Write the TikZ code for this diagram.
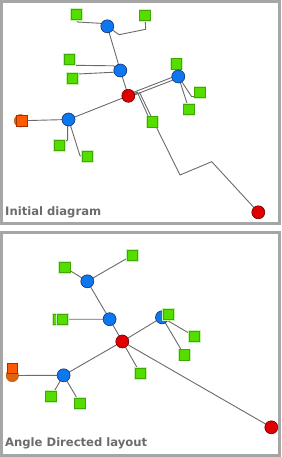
\documentclass[tikz,border=0pt]{standalone}
\usepackage{fontspec}
\newfontfamily\labfont{DejaVu Sans}
\definecolor{nodeblue}{HTML}{0B78F2}
\definecolor{blueline}{HTML}{1A3060}
\definecolor{nodered}{HTML}{E10000}
\definecolor{redline}{HTML}{6A0000}
\definecolor{nodegreen}{HTML}{55DD00}
\definecolor{greenline}{HTML}{3FA800}
\definecolor{greenhalo}{HTML}{CBEFB5}
\definecolor{nodeorange}{HTML}{FF5A00}
\definecolor{orangeline}{HTML}{A03000}
\definecolor{orangedark}{HTML}{DC6410}
\definecolor{edgegray}{HTML}{6A6A6A}
\definecolor{panelgray}{HTML}{A6A6A6}
\definecolor{labgray}{HTML}{6B6B6B}
\pgfdeclarelayer{bg}
\pgfsetlayers{bg,main}
\begin{document}
\begin{tikzpicture}[x=1pt,y=-1pt,
  bluenode/.style={circle,fill=nodeblue,draw=blueline,line width=0.6pt,minimum size=13pt,inner sep=0pt},
  rednode/.style={circle,fill=nodered,draw=redline,line width=0.6pt,minimum size=13pt,inner sep=0pt},
  greennode/.style={rectangle,fill=nodegreen,draw=greenline,line width=0.7pt,minimum size=10.5pt,inner sep=0pt,
    preaction={draw=greenhalo,line width=2.2pt}},
  orangenode/.style={rectangle,fill=nodeorange,draw=orangeline,line width=0.6pt,minimum size=10.5pt,inner sep=0pt},
  orangecirc/.style={circle,fill=orangedark,draw=orangedark!80!black,line width=0.4pt,minimum size=12.5pt,inner sep=0pt},
  edge/.style={draw=edgegray,line width=0.9pt},
  panel/.style={draw=panelgray,line width=2.6pt},
  lab/.style={font=\labfont\bfseries\fontsize{11.6}{14}\selectfont,text=labgray,inner sep=0pt,anchor=west}]
\useasboundingbox (0,0) rectangle (281,457);
% panels
\draw[panel] (1.3,1.3) rectangle (279.7,223.6);
\draw[panel] (1.3,232.4) rectangle (279.7,455.7);
\node[lab] (cap1) at (5,212.5) {Initial diagram};
\node[lab] (cap2) at (5,443.5) {Angle Directed layout};

% ---------- top panel: initial diagram ----------
\node[bluenode] (tb1) at (107.3,26.3) {};
\node[greennode] (ts1) at (76.3,14.3) {};
\node[greennode] (ts2) at (145,15.3) {};
\node[bluenode] (tb2) at (120.3,70.5) {};
\node[greennode] (ts3) at (69.3,59.3) {};
\node[greennode] (ts4) at (72.3,78.3) {};
\node[rednode] (tr1) at (128.3,95.8) {};
\node[greennode] (ts5) at (176.5,64) {};
\node[bluenode] (tb3) at (178.3,76.5) {};
\node[greennode] (ts6) at (200,92.3) {};
\node[greennode] (ts7) at (189,109.3) {};
\node[greennode] (ts8) at (152.3,122) {};
\node[bluenode] (tb4) at (68.5,119.5) {};
\node[orangecirc] (toc) at (20.5,120.8) {};
\node[orangenode] (to) at (21.8,120.7) {};
\node[greennode] (ts9) at (59.3,145.3) {};
\node[greennode] (ts10) at (87.2,156.3) {};
\node[rednode] (tr2) at (258.3,212.3) {};

\begin{pgfonlayer}{bg}
\draw[edge] (ts1.center) -- (77.3,22) -- (100,23.3) -- (tb1.center);
\draw[edge] (tb1.center) -- (119,34.7) -- (145.7,29.3) -- (ts2.center);
\draw[edge] (tb1.center) -- (tb2.center);
\draw[edge] (ts3.center) -- (72.3,65.3) -- (113.5,65.8) -- (tb2.center);
\draw[edge] (ts4.center) -- (77.7,74) -- (114.5,72.2) -- (tb2.center);
\draw[edge] (tb2.center) -- (tr1.center);
\draw[edge] ([yshift=1.5pt]tr1.center) -- ([yshift=1.5pt]tb3.center);
\draw[edge] ([yshift=-1.5pt]tr1.center) -- ([yshift=-1.5pt]tb3.center);
\draw[edge] (tb3.center) -- (ts5.center);
\draw[edge] (tb3.center) -- (191.7,96.7) -- (197,96.7);
\draw[edge] (tb3.center) -- (ts7.center);
\draw[edge] (tr1.center) -- (137.3,92.2) -- ([xshift=-1.5pt]ts8.center);
\draw[edge] (tr1.center) -- (139.8,93) -- ([xshift=1.5pt]ts8.center) -- (180,175) -- (211.7,161.7) -- (tr2.center);
\draw[edge] (tr1.center) -- (tb4.center);
\draw[edge] (tb4.center) -- (to.center);
\draw[edge] (67.6,119.5) -- (67.6,140) -- (ts9.center);
\draw[edge] (tb4.center) -- (70.8,126.5) -- (80,155.8) -- (ts10.center);
\end{pgfonlayer}

% ---------- bottom panel: angle directed layout ----------
\node[greennode] (bs1) at (64.7,267.3) {};
\node[greennode] (bs2) at (132.3,255.3) {};
\node[bluenode] (bb1) at (87.3,281.3) {};
\node[bluenode] (bb2) at (109.6,319.2) {};
\node[greennode] (bs3a) at (58.3,319.3) {};
\node[greennode] (bs3b) at (62.3,319.3) {};
\node[rednode] (br1) at (122.3,341.5) {};
\node[bluenode] (bb3) at (162,317.3) {};
\node[greennode] (bs5) at (168.3,314.3) {};
\node[greennode] (bs6) at (194.3,336.3) {};
\node[greennode] (bs7) at (184.3,355) {};
\node[greennode] (bs8) at (140.3,373.3) {};
\node[bluenode] (bb4) at (63.6,375.3) {};
\node[orangecirc] (boc) at (12.3,375.5) {};
\node[orangenode] (bo) at (12.3,368.3) {};
\node[greennode] (bs9) at (51,396.5) {};
\node[greennode] (bs10) at (80,403.2) {};
\node[rednode] (br2) at (271.3,427.3) {};

\begin{pgfonlayer}{bg}
\draw[edge] (bs1.center) -- (bb1.center);
\draw[edge] (bs2.center) -- (bb1.center);
\draw[edge] (bb1.center) -- (bb2.center);
\draw[edge] (bs3b.center) -- (bb2.center);
\draw[edge] (bb2.center) -- (br1.center);
\draw[edge] (br1.center) -- (bb3.center);
\draw[edge] (bb3.center) -- (bs5.center);
\draw[edge] (bb3.center) -- (bs6.center);
\draw[edge] (bb3.center) -- (bs7.center);
\draw[edge] (br1.center) -- (bs8.center);
\draw[edge] (br1.center) -- (bb4.center);
\draw[edge] (br1.center) -- (br2.center);
\draw[edge] (bb4.center) -- (boc.center);
\draw[edge] (bb4.center) -- (bs9.center);
\draw[edge] (bb4.center) -- (bs10.center);
\end{pgfonlayer}
\end{tikzpicture}
\end{document}
